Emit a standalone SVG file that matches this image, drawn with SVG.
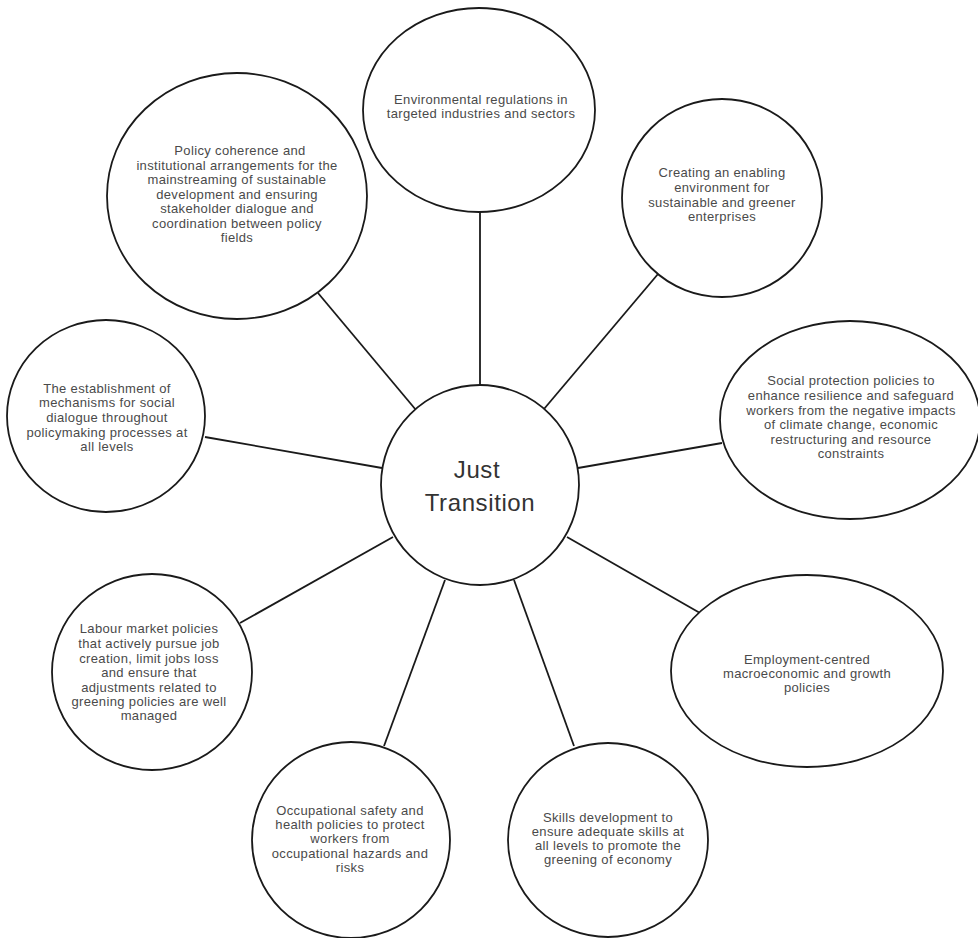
<svg xmlns="http://www.w3.org/2000/svg" width="978" height="938" viewBox="0 0 978 938">
<style>
.n{fill:#fff;stroke:#1a1a1a;stroke-width:1.8}
.c line{stroke:#1a1a1a;stroke-width:1.8}
text{font-family:"Liberation Sans","DejaVu Sans",sans-serif;font-size:13px;letter-spacing:0.35px;fill:#4a4a4a;text-anchor:middle}
.big{font-size:24px;letter-spacing:0.6px;fill:#333}
</style>
<rect width="978" height="938" fill="#fff"/>
<g class="c" id="connectors">
<line x1="480" y1="212" x2="480" y2="386"/>
<line x1="318" y1="293" x2="416" y2="410"/>
<line x1="658" y1="274" x2="544" y2="409"/>
<line x1="578" y1="468" x2="722" y2="443"/>
<line x1="205" y1="437" x2="382" y2="468"/>
<line x1="240" y1="623" x2="393" y2="537"/>
<line x1="567" y1="537" x2="700" y2="613"/>
<line x1="445" y1="580" x2="384" y2="746"/>
<line x1="514" y1="580" x2="574" y2="746"/>
</g>
<g id="n-env">
<ellipse class="n" cx="479" cy="110" rx="116" ry="102"/>
<text x="481" y="104">Environmental regulations in</text>
<text x="481" y="118">targeted industries and sectors</text>
</g>
<g id="n-policy">
<ellipse class="n" cx="237" cy="196" rx="130" ry="123"/>
<text x="240" y="155">Policy coherence and</text>
<text x="237" y="170">institutional arrangements for the</text>
<text x="237" y="184">mainstreaming of sustainable</text>
<text x="237" y="199">development and ensuring</text>
<text x="237" y="213">stakeholder dialogue and</text>
<text x="237" y="228">coordination between policy</text>
<text x="237" y="242">fields</text>
</g>
<g id="n-creating">
<ellipse class="n" cx="722" cy="198" rx="100" ry="99"/>
<text x="722" y="177">Creating an enabling</text>
<text x="722" y="192">environment for</text>
<text x="722" y="207">sustainable and greener</text>
<text x="722" y="221">enterprises</text>
</g>
<g id="n-social">
<ellipse class="n" cx="850" cy="420" rx="130" ry="99"/>
<text x="851" y="385">Social protection policies to</text>
<text x="851" y="400">enhance resilience and safeguard</text>
<text x="851" y="415">workers from the negative impacts</text>
<text x="851" y="429">of climate change, economic</text>
<text x="851" y="444">restructuring and resource</text>
<text x="851" y="458">constraints</text>
</g>
<g id="n-establishment">
<ellipse class="n" cx="106" cy="416" rx="99" ry="96"/>
<text x="107" y="393">The establishment of</text>
<text x="107" y="407">mechanisms for social</text>
<text x="107" y="422">dialogue throughout</text>
<text x="107" y="437">policymaking processes at</text>
<text x="107" y="451">all levels</text>
</g>
<g id="n-center">
<ellipse class="n" cx="480" cy="485" rx="99" ry="100"/>
<text class="big" x="477" y="478">Just</text>
<text class="big" x="480" y="511">Transition</text>
</g>
<g id="n-employment">
<ellipse class="n" cx="807" cy="671" rx="136" ry="96"/>
<text x="807" y="664">Employment-centred</text>
<text x="807" y="678">macroeconomic and growth</text>
<text x="807" y="692">policies</text>
</g>
<g id="n-labour">
<ellipse class="n" cx="152" cy="672" rx="100" ry="98"/>
<text x="149" y="633">Labour market policies</text>
<text x="149" y="648">that actively pursue job</text>
<text x="149" y="663">creation, limit jobs loss</text>
<text x="149" y="677">and ensure that</text>
<text x="149" y="692">adjustments related to</text>
<text x="149" y="706">greening policies are well</text>
<text x="149" y="720">managed</text>
</g>
<g id="n-occupational">
<ellipse class="n" cx="351" cy="840" rx="99" ry="98"/>
<text x="350" y="815">Occupational safety and</text>
<text x="350" y="829">health policies to protect</text>
<text x="350" y="843">workers from</text>
<text x="350" y="858">occupational hazards and</text>
<text x="350" y="872">risks</text>
</g>
<g id="n-skills">
<ellipse class="n" cx="608" cy="840" rx="100" ry="97"/>
<text x="608" y="822">Skills development to</text>
<text x="608" y="836">ensure adequate skills at</text>
<text x="608" y="850">all levels to promote the</text>
<text x="608" y="864">greening of economy</text>
</g>
</svg>
